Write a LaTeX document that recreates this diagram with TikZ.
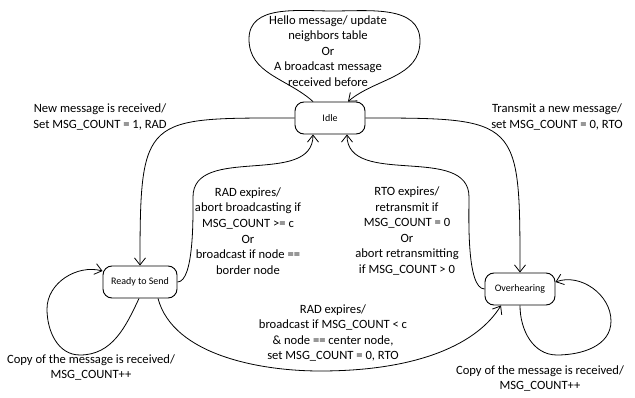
\documentclass[tikz,border=0pt]{standalone}
\usepackage{fontspec}
\setmainfont{Carlito}
\usetikzlibrary{arrows.meta}

\begin{document}
\begin{tikzpicture}[x=1pt,y=1pt]
		\tikzset{state/.style={draw, line width=0.9pt, rounded corners=9pt, minimum width=#1, minimum height=32pt, inner sep=0pt, font=\fontsize{10}{12}\selectfont}};
		\tikzset{trans/.style={-{Straight Barb[length=7pt,width=11pt]}, line width=0.8pt}};
		\tikzset{lbl/.style={align=center, inner sep=0pt, font=\fontsize{12.6}{15.6}\selectfont}};
		\useasboundingbox (0,0) rectangle (635,397);
		% the three states
		\node[state=70pt] (idle) at (330,279) {Idle};
		\node[state=74pt] (rts) at (140,115) {Ready to Send};
		\node[state=70pt] (ovh) at (520,108) {Overhearing};
		% idle loop
		\draw[trans] ([xshift=-17pt]idle.north) to[out=138,in=270] (249,358) to[out=90,in=180] (333,386) to[out=0,in=90] (420,356) to[out=270,in=40] ([xshift=18pt]idle.north);
		\node[lbl] (hello) at (328,346) {Hello message/ update\\neighbors table\\Or\\A broadcast message\\received before};
		% leaving idle
		\draw[trans] (idle.west) to[out=180,in=90,looseness=1.8] (rts.north);
		\node[lbl] (newmsg) at (100,280) {New message is received/\\Set MSG\_COUNT = 1, RAD};
		\draw[trans] (idle.east) to[out=0,in=90,looseness=1.8] (ovh.north);
		\node[lbl] (transmit) at (557,280) {Transmit a new message/\\set MSG\_COUNT = 0, RTO};
		% back to idle
		\draw[trans] (rts.east) to[out=0,in=270,looseness=0.5] (193,200) to[out=90,in=270] ([xshift=-17pt]idle.south);
		\node[lbl] (radabort) at (248,166) {RAD expires/\\abort broadcasting if\\MSG\_COUNT >= c\\Or\\broadcast if node ==\\border node};
		\draw[trans] (ovh.west) to[out=180,in=270,looseness=0.5] (469,200) to[out=90,in=270] ([xshift=17pt]idle.south);
		\node[lbl] (rto) at (407,166) {RTO expires/\\retransmit if\\MSG\_COUNT = 0\\Or\\abort retransmitting\\if MSG\_COUNT > 0};
		% ready to send -> overhearing
		\draw[trans] ([xshift=18pt]rts.south) to[out=285,in=180,looseness=0.85] (320,26) .. controls (420,26) and (478,54) .. ([xshift=-19pt]ovh.south);
		\node[lbl] (radbc) at (333,64) {RAD expires/\\broadcast if MSG\_COUNT < c\\\& node == center node,\\set MSG\_COUNT = 0, RTO};
		% copies received
		\draw[trans] ([xshift=-1pt]rts.south) to[out=245,in=0] (80,42) to[out=180,in=270] (47,88) to[out=90,in=165] ([yshift=11pt]rts.west);
		\node[lbl] (copyl) at (91,29.5) {Copy of the message is received/\\MSG\_COUNT++};
		\draw[trans] (ovh.south) to[out=270,in=180] (557,42) to[out=0,in=270] (611,76) to[out=90,in=20] ([yshift=7pt]ovh.east);
		\node[lbl] (copyr) at (540,18.5) {Copy of the message is received/\\MSG\_COUNT++};
\end{tikzpicture}
\end{document}
